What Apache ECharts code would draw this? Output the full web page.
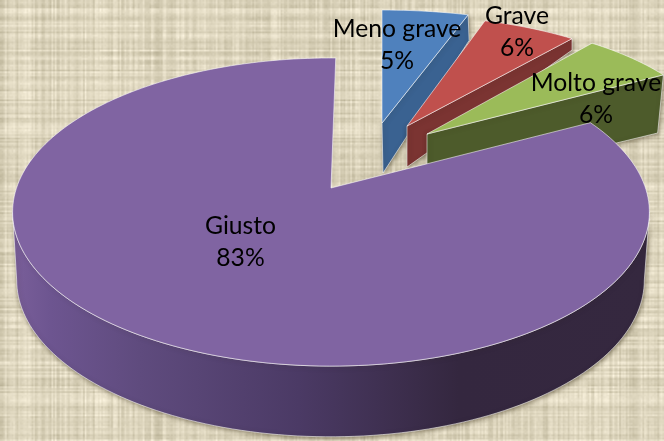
<!DOCTYPE html>
<html>
<head>
<meta charset="utf-8">
<style>
html,body{margin:0;padding:0;width:664px;height:441px;overflow:hidden;background:#dcd4bd}
#c{width:664px;height:441px}
</style>
<script src="https://cdn.jsdelivr.net/npm/echarts@6/dist/echarts.min.js"></script>
</head>
<body>
<div id="c"></div>
<script>
const categories = ['Meno grave', 'Grave', 'Molto grave', 'Giusto'];
const values = [5, 6, 6, 83];

// Styling and layout of each slice (not data)
const topColors = ['#4F81BD', '#C0504D', '#9BBB59', '#8064A2'];
const wallColors = ['#3A6291', '#7B3432', '#4D5B2B', null];
const topApex = [[382,123],[407,126],[427,134],[331,188]];
const botApex = [[383,173],[407,167],[427,189],[330.5,255.5]];
const topRadii = [[320,130.6],[290,127],[290,132],[314.5,150.3]];
const botRadii = [[320,160],[290,170],[283,125],[310,153]];
const labelPos = [[397,45],[517,32],[596,99],[240.5,242]];
const sliceTurn = [0, 0, 0, -1];
const persp = 0.156;
const startAngle = 90;
const lineGap = 32;

// Woven backdrop: a fixed hash, drawn small and enlarged so it blurs like the photo
function wovenTexture() {
  const frac = n => { const v = Math.sin(n * 12.9898) * 43758.5453; return v - Math.floor(v); };
  const w = 400, h = 266;
  const small = document.createElement('canvas');
  small.width = w; small.height = h;
  const sc = small.getContext('2d');
  const img = sc.createImageData(w, h);
  for (let y = 0; y < h; y++) {
    for (let x = 0; x < w; x++) {
      const col = frac(x + 1.3) - 0.5, row = frac(y * 1.7 + 40.1) - 0.5;
      const pa = frac(Math.floor(x / 9) * 3.1 + Math.floor(y / 6) * 7.7 + 5.2);
      const pb = frac(Math.floor(x / 6) * 5.3 + Math.floor(y / 10) * 2.9 + 9.4);
      const fine = frac(x * 0.77 + y * 91.3) - 0.5;
      const v = 30 * col * (0.5 + 0.7 * pa) + 32 * row * (0.5 + 0.7 * pb) + 8 * fine;
      const i = (x + y * w) * 4;
      img.data[i] = 221 + v; img.data[i + 1] = 213 + v; img.data[i + 2] = 189 + v * 1.1; img.data[i + 3] = 255;
    }
  }
  sc.putImageData(img, 0, 0);
  const big = document.createElement('canvas');
  big.width = 664; big.height = 441;
  const bc = big.getContext('2d');
  bc.imageSmoothingEnabled = true;
  bc.drawImage(small, 0, 0, 664, 441);
  return big;
}

const total = values.reduce((a, b) => a + b, 0);
const rad = d => d * Math.PI / 180;
function proj(apex, radii, deg) {
  const c = Math.cos(rad(deg)), s = Math.sin(rad(deg)), d = 1 + persp * s;
  return [apex[0] + radii[0] * c / d, apex[1] - radii[1] * s / d];
}
function arc(apex, radii, from, to) {
  const n = Math.max(2, Math.ceil(Math.abs(to - from) / 1.5));
  const pts = [];
  for (let i = 0; i <= n; i++) pts.push(proj(apex, radii, from + (to - from) * i / n));
  return pts;
}
const edge = 'rgba(255,255,255,0.55)';
const shadow = {shadowBlur: 5, shadowColor: 'rgba(50,40,15,0.55)', shadowOffsetX: 1, shadowOffsetY: 1};
const wallGrad = {type:'linear',x:0,y:0,x2:1,y2:0,colorStops:[
  {offset:0,color:'#7a5f9a'},{offset:.06,color:'#6d5590'},{offset:.2,color:'#5f4b7e'},
  {offset:.45,color:'#4b3a65'},{offset:.7,color:'#34273f'},{offset:1,color:'#35283f'}]};

function renderItem(params, api) {
  const i = params.dataIndex;
  let before = 0;
  for (let j = 0; j < i; j++) before += values[j];
  const a0 = startAngle - before / total * 360 + sliceTurn[i];
  const a1 = a0 - api.value(0) / total * 360;
  const children = [];
  const ta = topApex[i], ba = botApex[i], tr = topRadii[i], br = botRadii[i];
  if (i === 3) {
    const tilt = Math.asin(persp) * 180 / Math.PI;
    const from = 180 + tilt, to = 360 - tilt;
    const wall = arc(ta, tr, from, to).concat(arc(ba, br, to, from));
    children.push({type:'polygon', shape:{points:wall},
      style:Object.assign({fill:wallGrad, stroke:edge, lineWidth:1}, shadow)});
  } else {
    const wall = [ta, proj(ta, tr, a1), proj(ba, br, a1), ba];
    children.push({type:'polygon', shape:{points:wall},
      style:Object.assign({fill:wallColors[i], stroke:edge, lineWidth:1}, shadow)});
  }
  const face = [ta].concat(arc(ta, tr, a0, a1));
  children.push({type:'polygon', shape:{points:face},
    style:{fill:topColors[i], stroke:edge, lineWidth:1}});
  children.push({type:'text', z2:100, style:{
    text: categories[i] + '\n' + api.value(0) + '%',
    x: labelPos[i][0], y: labelPos[i][1], align:'center', verticalAlign:'middle',
    font:'24.7px Lato', lineHeight: lineGap, fill:'#000'}});
  return {type:'group', children};
}

const chart = echarts.init(document.getElementById('c'), null, {renderer:'canvas'});
chart.setOption({
  animation:false,
  backgroundColor:{image: wovenTexture(), repeat:'no-repeat'},
  series:[{type:'custom', coordinateSystem:'none', renderItem,
    data: values.map((v, i) => ({name: categories[i], value: [v]}))}]
});
</script>
</body>
</html>
